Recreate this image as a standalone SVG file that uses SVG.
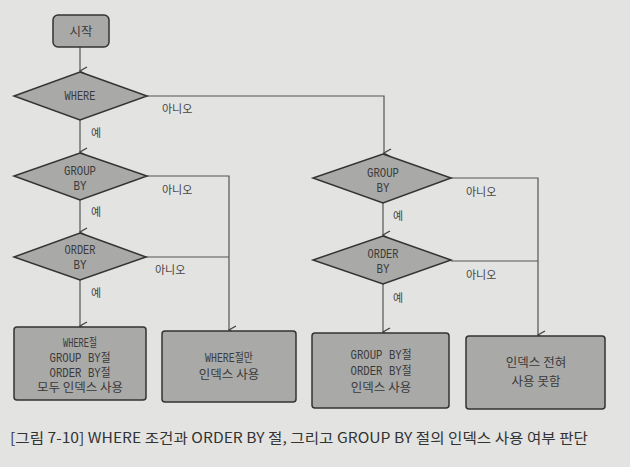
<svg xmlns="http://www.w3.org/2000/svg" width="630" height="467" viewBox="0 0 630 467">
<defs>
<marker id="ah" markerWidth="10" markerHeight="10" refX="5" refY="9" orient="auto" markerUnits="userSpaceOnUse" viewBox="0 0 10 10">
<path d="M1,2 L5,9 L9,2" fill="none" stroke="#444" stroke-width="1.3"/>
</marker>
<style>
.shape{fill:#a9a9a8;stroke:#333;stroke-width:1.5}
.t{font-family:"Liberation Mono","Noto Sans CJK KR",monospace;font-size:12px;fill:#3a3a3a;text-anchor:middle}
.k{font-family:"Noto Sans CJK KR","Noto Sans",sans-serif;font-size:12.5px;fill:#3a3a3a;text-anchor:middle}
.lbl{font-family:"Noto Sans CJK KR","Noto Sans",sans-serif;font-size:11px;fill:#444}
.ln{fill:none;stroke:#555;stroke-width:1.2}
.cap{font-family:"Noto Sans CJK KR","Liberation Sans",sans-serif;font-size:14px;fill:#333}
</style>
</defs>
<rect width="630" height="467" fill="#e3e3e1"/>
<g id="connectors">
<path class="ln" d="M80,47 L80,71" marker-end="url(#ah)"/>
<path class="ln" d="M80,120 L80,152" marker-end="url(#ah)"/>
<path class="ln" d="M80,200 L80,232" marker-end="url(#ah)"/>
<path class="ln" d="M80,280 L80,326" marker-end="url(#ah)"/>
<path class="ln" d="M147,96 L384,96 L384,153" marker-end="url(#ah)"/>
<path class="ln" d="M147,176 L229,176 L229,330" marker-end="url(#ah)"/>
<path class="ln" d="M146,257 L229,257"/>
<path class="ln" d="M383,203 L383,235" marker-end="url(#ah)"/>
<path class="ln" d="M383,284 L383,332" marker-end="url(#ah)"/>
<path class="ln" d="M451,178 L538,178 L538,335" marker-end="url(#ah)"/>
<path class="ln" d="M451,261 L538,261"/>
<text class="lbl" x="162" y="113">아니오</text>
<text class="lbl" x="91" y="137">예</text>
<text class="lbl" x="162" y="194">아니오</text>
<text class="lbl" x="91" y="216">예</text>
<text class="lbl" x="155" y="274">아니오</text>
<text class="lbl" x="91" y="297">예</text>
<text class="lbl" x="466" y="196">아니오</text>
<text class="lbl" x="393" y="220">예</text>
<text class="lbl" x="466" y="279">아니오</text>
<text class="lbl" x="393" y="302">예</text>
</g>
<g id="start">
<rect class="shape" x="53" y="15" width="56" height="32" rx="5"/>
<text class="k" x="81" y="36" font-size="13">시작</text>
</g>
<g id="where">
<polygon class="shape" points="80,72 147,96 80,120 14,96"/>
<text class="t" x="80" y="100" textLength="31" lengthAdjust="spacingAndGlyphs">WHERE</text>
</g>
<g id="groupby1">
<polygon class="shape" points="80,153 147,176 80,200 14,176"/>
<text class="t" x="80" y="175" textLength="32" lengthAdjust="spacingAndGlyphs">GROUP</text>
<text class="t" x="80" y="190" textLength="13" lengthAdjust="spacingAndGlyphs">BY</text>
</g>
<g id="orderby1">
<polygon class="shape" points="80,233 146,257 80,280 14,257"/>
<text class="t" x="80" y="254" textLength="31" lengthAdjust="spacingAndGlyphs">ORDER</text>
<text class="t" x="80" y="269" textLength="13" lengthAdjust="spacingAndGlyphs">BY</text>
</g>
<g id="box1">
<rect class="shape" x="14" y="327" width="132" height="73" rx="3"/>
<text class="t" x="80" y="347" textLength="34" lengthAdjust="spacingAndGlyphs">WHERE절</text>
<text class="t" x="80" y="362" textLength="61" lengthAdjust="spacingAndGlyphs">GROUP BY절</text>
<text class="t" x="80" y="377" textLength="61" lengthAdjust="spacingAndGlyphs">ORDER BY절</text>
<text class="k" x="80" y="392">모두 인덱스 사용</text>
</g>
<g id="box2">
<rect class="shape" x="162" y="331" width="134" height="71" rx="3"/>
<text class="t" x="229" y="362" textLength="48" lengthAdjust="spacingAndGlyphs">WHERE절만</text>
<text class="k" x="229" y="379">인덱스 사용</text>
</g>
<g id="groupby2">
<polygon class="shape" points="383,154 451,178 383,203 313,178"/>
<text class="t" x="383" y="177" textLength="32" lengthAdjust="spacingAndGlyphs">GROUP</text>
<text class="t" x="383" y="192" textLength="13" lengthAdjust="spacingAndGlyphs">BY</text>
</g>
<g id="orderby2">
<polygon class="shape" points="383,236 451,260 383,284 313,260"/>
<text class="t" x="383" y="258" textLength="31" lengthAdjust="spacingAndGlyphs">ORDER</text>
<text class="t" x="383" y="273" textLength="13" lengthAdjust="spacingAndGlyphs">BY</text>
</g>
<g id="box3">
<rect class="shape" x="312" y="333" width="137" height="75" rx="3"/>
<text class="t" x="381" y="359" textLength="61" lengthAdjust="spacingAndGlyphs">GROUP BY절</text>
<text class="t" x="381" y="375" textLength="61" lengthAdjust="spacingAndGlyphs">ORDER BY절</text>
<text class="k" x="381" y="392">인덱스 사용</text>
</g>
<g id="box4">
<rect class="shape" x="466" y="336" width="139" height="73" rx="3"/>
<text class="k" x="536" y="367">인덱스 전혀</text>
<text class="k" x="536" y="386">사용 못함</text>
</g>
<text class="cap" x="10" y="443" textLength="578" lengthAdjust="spacingAndGlyphs">[그림 7-10] WHERE 조건과 ORDER BY 절, 그리고 GROUP BY 절의 인덱스 사용 여부 판단</text>
</svg>
